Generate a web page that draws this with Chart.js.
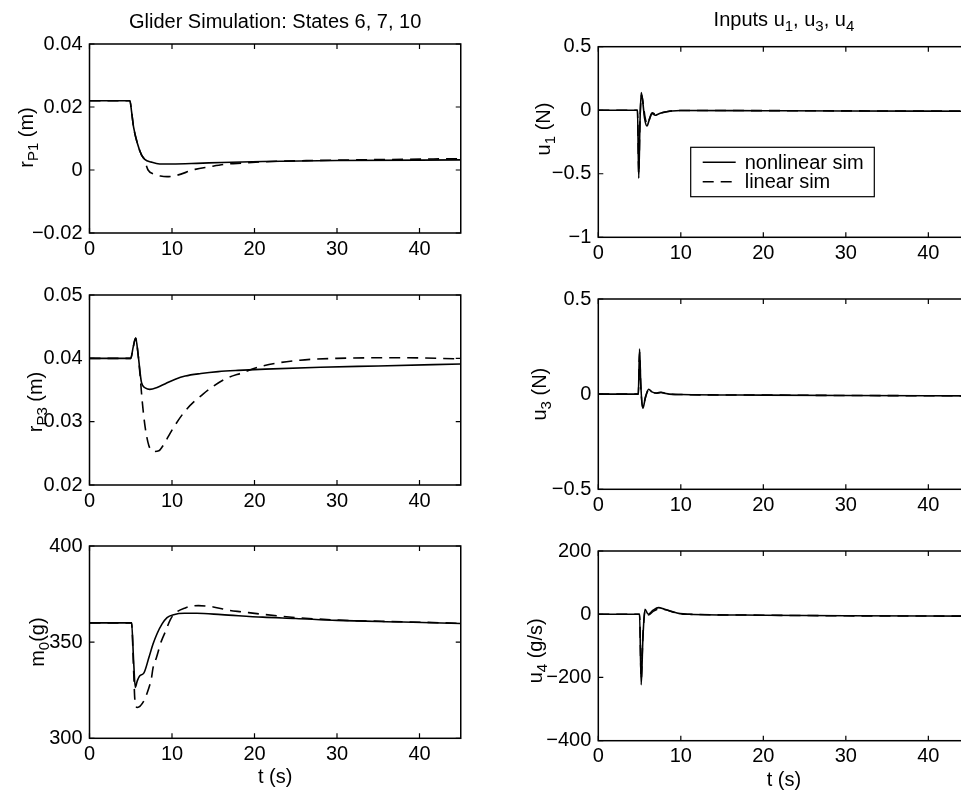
<!DOCTYPE html>
<html>
<head>
<meta charset="utf-8">
<script src="https://cdn.jsdelivr.net/npm/chart.js@4.4.1/dist/chart.umd.min.js"></script>
<style>
  html, body { margin: 0; padding: 0; background: #fff; overflow: hidden; }
  #wrap { position: relative; width: 1000px; height: 794px; }
  #wrap canvas { position: absolute; left: 0; top: 0; }
</style>
</head>
<body>
<div id="wrap"></div>
<script>
// time axis ticks shared by all panels
const xTicks = [0, 10, 20, 30, 40];

// r_P1 (m)
const tRp1Nl = [0, 4.9, 5.1, 5.35, 5.8, 6.3, 6.7, 7.5, 8.5, 10, 13, 16, 21, 30, 45];
const rp1Nl  = [0.022, 0.022, 0.0185, 0.0135, 0.0085, 0.0048, 0.0034, 0.0025, 0.0019, 0.0019, 0.0021, 0.0024, 0.0027, 0.0030, 0.0032];
const tRp1Lin = [0, 4.9, 5.1, 5.35, 5.8, 6.3, 6.6, 7.1, 7.8, 8.6, 9.4, 10.4, 12.8, 14.5, 16.4, 18.4, 21, 27, 35, 45];
const rp1Lin  = [0.022, 0.022, 0.0185, 0.0135, 0.0085, 0.0048, 0.0036, 0.0, -0.0013, -0.0019, -0.0021, -0.0018, 0.0002, 0.0010, 0.0018, 0.0022, 0.0026, 0.0030, 0.0033, 0.0036];
const rp1Ticks = [-0.02, 0, 0.02, 0.04];

// r_P3 (m)
const tRp3Nl = [0, 5.0, 5.3, 5.6, 5.9, 6.3, 6.8, 7.3, 8.2, 9.2, 10.4, 11.6, 13.5, 15.6, 18, 21.3, 28, 35, 45];
const rp3Nl  = [0.04, 0.04, 0.0418, 0.0432, 0.0405, 0.0362, 0.0353, 0.0351, 0.0354, 0.0360, 0.0367, 0.0372, 0.0376, 0.0379, 0.0381, 0.0383, 0.0386, 0.0388, 0.0391];
const tRp3Lin = [0, 5.0, 5.3, 5.6, 5.9, 6.1, 6.4, 6.75, 7.2, 7.8, 8.4, 8.8, 10.2, 11.6, 13.8, 16.4, 18.5, 21, 25.5, 30, 38, 45];
const rp3Lin  = [0.04, 0.04, 0.0418, 0.0432, 0.0405, 0.0378, 0.0331, 0.0291, 0.0262, 0.0253, 0.0254, 0.0260, 0.0291, 0.0317, 0.0344, 0.0367, 0.0377, 0.0388, 0.0397, 0.0400, 0.0401, 0.0399];
const rp3Ticks = [0.02, 0.03, 0.04, 0.05];

// m_0 (g)
const tM0Nl = [0, 5.1, 5.35, 5.55, 5.8, 6.1, 6.6, 7.2, 7.7, 8.2, 8.8, 9.4, 10.2, 11.5, 13, 16, 21, 25, 30, 38, 45];
const m0Nl  = [360, 360, 340, 326.5, 330, 332.5, 334, 342, 349, 354.5, 359.5, 362.8, 364.3, 365, 365, 364.3, 363, 362.3, 361.3, 360.5, 359.7];
const tM0Lin = [0, 5.1, 5.35, 5.5, 5.8, 6.6, 7.1, 7.5, 7.7, 8.1, 8.7, 9.2, 9.8, 10.2, 11.6, 13.2, 15, 17, 18.4, 21, 25, 30, 38, 45];
const m0Lin  = [360, 360, 335, 320, 316, 319.5, 325, 331, 336.6, 341.8, 350.4, 355.5, 361.7, 364.3, 367.8, 369, 368.3, 366.5, 365.8, 364.5, 362.8, 361.5, 360.6, 359.8];
const m0Ticks = [300, 350, 400];

// u_1 (N)
const tU1Nl = [0, 4.75, 4.9, 5.05, 5.2, 5.4, 5.6, 5.9, 6.2, 6.5, 6.9, 7.3, 7.7, 8.3, 8.9, 10, 20, 30, 45];
const u1Nl  = [0, 0, -0.535, -0.1, 0.139, 0.06, -0.06, -0.124, -0.07, -0.025, -0.04, -0.03, -0.02, -0.012, -0.006, -0.002, -0.004, -0.006, -0.008];
const tU1Lin = [0, 4.75, 4.9, 5.05, 5.25, 5.45, 5.65, 5.95, 6.25, 6.55, 6.95, 7.4, 7.8, 8.4, 9, 10, 20, 30, 45];
const u1Lin  = [0, 0, -0.50, -0.08, 0.12, 0.05, -0.05, -0.11, -0.06, -0.02, -0.035, -0.028, -0.017, -0.01, -0.005, -0.002, -0.003, -0.005, -0.007];
const u1Ticks = [-1, -0.5, 0, 0.5];

// u_3 (N)
const tU3Nl = [0, 4.85, 5.0, 5.15, 5.4, 5.7, 6.1, 6.5, 7.1, 7.6, 8.1, 8.6, 10, 20, 30, 45];
const u3Nl  = [0, 0, 0.237, 0.05, -0.074, -0.02, 0.026, 0.012, 0.005, 0.009, 0.004, 0.0, -0.002, -0.005, -0.007, -0.009];
const tU3Lin = [0, 4.85, 5.0, 5.15, 5.4, 5.7, 6.1, 6.5, 7.1, 7.6, 8.1, 8.6, 10, 20, 30, 45];
const u3Lin  = [0, 0, 0.22, 0.04, -0.07, -0.018, 0.022, 0.01, 0.006, 0.01, 0.005, 0.001, -0.002, -0.005, -0.007, -0.009];
const u3Ticks = [-0.5, 0, 0.5];

// u_4 (g/s)
const tU4Nl = [0, 5.0, 5.2, 5.4, 5.65, 6.05, 6.6, 7.3, 8, 8.7, 9.9, 11, 20, 30, 45];
const u4Nl  = [0, 0, -223, -80, 15.8, 0, 12, 21, 16, 10.5, 2, 0, -3, -5, -6];
const tU4Lin = [0, 5.0, 5.2, 5.4, 5.7, 6.1, 6.7, 7.5, 8.2, 8.9, 10, 11, 20, 30, 45];
const u4Lin  = [0, 0, -205, -70, 12, -2, 10, 18, 14, 8, 1.5, 0, -3, -5, -6];
const u4Ticks = [-400, -200, 0, 200];

const seriesNames = ['nonlinear sim', 'linear sim'];

const FONT = '"Liberation Sans", Arial, Helvetica, sans-serif';
const W = 1000, H = 794;

function zip(t, v) {
  return t.map((x, i) => ({ x, y: v[i] }));
}

function fmt(v) {
  return String(v).replace('-', '\u2212');
}

// draw text made of [text, isSub] parts, centred at (x, y) on its baseline
function drawRich(ctx, parts, x, y, rotate) {
  const main = '20px ' + FONT, sub = '15px ' + FONT;
  let total = 0;
  parts.forEach(([s, isSub]) => { ctx.font = isSub ? sub : main; total += ctx.measureText(s).width; });
  ctx.save();
  ctx.translate(x, y);
  if (rotate) ctx.rotate(-Math.PI / 2);
  ctx.fillStyle = '#000';
  ctx.textBaseline = 'alphabetic';
  ctx.textAlign = 'left';
  let cx = -total / 2;
  parts.forEach(([s, isSub]) => {
    ctx.font = isSub ? sub : main;
    ctx.fillText(s, cx, isSub ? 5 : 0);
    cx += ctx.measureText(s).width;
  });
  ctx.restore();
}

const frame = {
  id: 'frame',
  afterDraw(chart) {
    const { ctx, chartArea: a, scales: { x, y } } = chart;
    const o = chart.options.plugins.frame;
    ctx.save();
    ctx.strokeStyle = '#000';
    ctx.lineWidth = 1.5;
    ctx.strokeRect(a.left, a.top, a.width, a.height);
    ctx.beginPath();
    x.ticks.forEach(t => {
      const px = x.getPixelForValue(t.value);
      ctx.moveTo(px, a.bottom); ctx.lineTo(px, a.bottom - 5);
      ctx.moveTo(px, a.top); ctx.lineTo(px, a.top + 5);
    });
    y.ticks.forEach(t => {
      const py = y.getPixelForValue(t.value);
      ctx.moveTo(a.left, py); ctx.lineTo(a.left + 5, py);
      ctx.moveTo(a.right, py); ctx.lineTo(a.right - 5, py);
    });
    ctx.lineWidth = 1.2;
    ctx.stroke();

    // y label
    drawRich(ctx, o.ylabel, a.left + o.ylabelDx, (a.top + a.bottom) / 2 + o.ylabelDy, true);
    if (o.title) drawRich(ctx, o.title, (a.left + o.titleRight) / 2, a.top + o.titleDy, false);
    if (o.xlabel) drawRich(ctx, [[o.xlabel, false]], (a.left + o.titleRight) / 2, a.bottom + 45, false);

    if (o.legend) {
      const lx = a.left + 92.4, ly = a.top + 100.6, lw = 183.6, lh = 49.4;
      ctx.fillStyle = '#fff';
      ctx.fillRect(lx, ly, lw, lh);
      ctx.lineWidth = 1.2;
      ctx.strokeRect(lx, ly, lw, lh);
      chart.data.datasets.forEach((ds, i) => {
        const yy = ly + 15 + i * 19.5;
        ctx.beginPath();
        ctx.setLineDash(ds.borderDash || []);
        ctx.lineWidth = ds.borderWidth;
        ctx.moveTo(lx + 12, yy); ctx.lineTo(lx + 45, yy);
        ctx.stroke();
        ctx.setLineDash([]);
        ctx.fillStyle = '#000';
        ctx.font = '20px ' + FONT;
        ctx.textBaseline = 'middle';
        ctx.fillText(ds.label, lx + 54, yy + 1);
      });
    }
    ctx.restore();
  }
};

function makeChart(p) {
  const canvas = document.createElement('canvas');
  canvas.width = W; canvas.height = H;
  document.getElementById('wrap').appendChild(canvas);
  const [l, t, r, b] = p.box;
  const tickFont = { family: FONT, size: 20 };
  new Chart(canvas.getContext('2d'), {
    type: 'line',
    data: {
      datasets: [
        { label: seriesNames[0], data: zip(p.tNl, p.vNl), borderColor: '#000', borderWidth: 1.6,
          pointRadius: 0, fill: false, cubicInterpolationMode: 'monotone' },
        { label: seriesNames[1], data: zip(p.tLin, p.vLin), borderColor: '#000', borderWidth: 1.6,
          borderDash: [11, 7], pointRadius: 0, fill: false, cubicInterpolationMode: 'monotone' }
      ]
    },
    options: {
      responsive: false,
      animation: false,
      events: [],
      layout: { padding: { left: l - 60, top: t, right: W - r, bottom: H - b - 30 } },
      plugins: {
        legend: { display: false },
        tooltip: { enabled: false },
        frame: p
      },
      scales: {
        x: {
          type: 'linear', min: 0, max: 45,
          afterBuildTicks: s => { s.ticks = xTicks.map(v => ({ value: v })); },
          afterFit: s => { s.height = 30; },
          grid: { display: false, drawTicks: false },
          border: { display: false },
          ticks: { padding: 4, color: '#000', font: tickFont, maxRotation: 0, autoSkip: false, callback: v => fmt(v) }
        },
        y: {
          type: 'linear', min: p.yTicks[0], max: p.yTicks[p.yTicks.length - 1],
          afterBuildTicks: s => { s.ticks = p.yTicks.map(v => ({ value: v })); },
          afterFit: s => { s.width = 60; },
          grid: { display: false, drawTicks: false },
          border: { display: false },
          ticks: { padding: 7, color: '#000', font: tickFont, autoSkip: false, callback: v => fmt(v) }
        }
      }
    },
    plugins: [frame]
  });
}

const leftX = [89.5, 460.75], rightX = [598.3, 969.6];

makeChart({ box: [leftX[0], 44, leftX[1], 233], tNl: tRp1Nl, vNl: rp1Nl, tLin: tRp1Lin, vLin: rp1Lin, yTicks: rp1Ticks,
  ylabel: [['r', false], ['P1', true], [' (m)', false]], ylabelDx: -57, ylabelDy: -1,
  title: [['Glider Simulation: States 6, 7, 10', false]], titleRight: leftX[1], titleDy: -16 });
makeChart({ box: [leftX[0], 295, leftX[1], 485], tNl: tRp3Nl, vNl: rp3Nl, tLin: tRp3Lin, vLin: rp3Lin, yTicks: rp3Ticks,
  ylabel: [['r', false], ['P3', true], [' (m)', false]], ylabelDx: -48, ylabelDy: 12 });
makeChart({ box: [leftX[0], 546, leftX[1], 738.3], tNl: tM0Nl, vNl: m0Nl, tLin: tM0Lin, vLin: m0Lin, yTicks: m0Ticks,
  ylabel: [['m', false], ['0', true], ['(g)', false]], ylabelDx: -46, ylabelDy: 0,
  xlabel: 't (s)', titleRight: leftX[1] });
makeChart({ box: [rightX[0], 46.7, rightX[1], 237.3], tNl: tU1Nl, vNl: u1Nl, tLin: tU1Lin, vLin: u1Lin, yTicks: u1Ticks,
  ylabel: [['u', false], ['1', true], [' (N)', false]], ylabelDx: -48, ylabelDy: -13,
  title: [['Inputs u', false], ['1', true], [', u', false], ['3', true], [', u', false], ['4', true]], titleRight: rightX[1], titleDy: -21,
  legend: true });
makeChart({ box: [rightX[0], 299, rightX[1], 489.3], tNl: tU3Nl, vNl: u3Nl, tLin: tU3Lin, vLin: u3Lin, yTicks: u3Ticks,
  ylabel: [['u', false], ['3', true], [' (N)', false]], ylabelDx: -52, ylabelDy: 0 });
makeChart({ box: [rightX[0], 551, rightX[1], 740.7], tNl: tU4Nl, vNl: u4Nl, tLin: tU4Lin, vLin: u4Lin, yTicks: u4Ticks,
  ylabel: [['u', false], ['4', true], [' (g/s)', false]], ylabelDx: -56, ylabelDy: 5,
  xlabel: 't (s)', titleRight: rightX[1] });
</script>
</body>
</html>
